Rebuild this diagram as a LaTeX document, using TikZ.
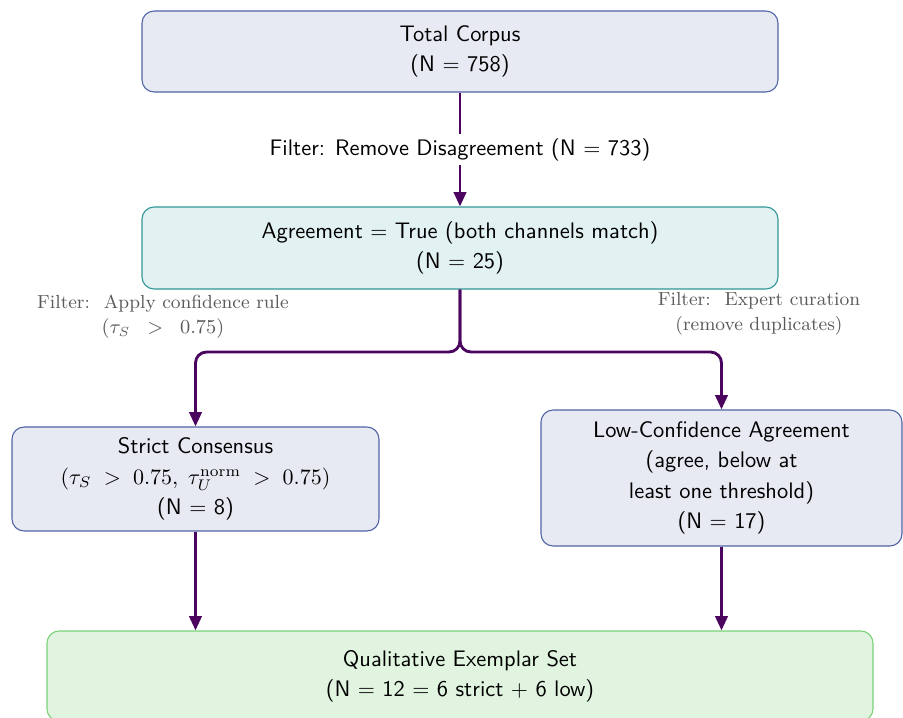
\documentclass[tikz,border=0pt]{standalone}
\usepackage{amsmath}
\usetikzlibrary{arrows.meta}
\definecolor{boxfill}{RGB}{232,234,243}
\definecolor{boxdraw}{RGB}{80,100,165}
\definecolor{agfill}{RGB}{226,241,241}
\definecolor{agdraw}{RGB}{50,150,150}
\definecolor{exfill}{RGB}{224,244,224}
\definecolor{exdraw}{RGB}{120,210,120}
\definecolor{arrcol}{RGB}{75,5,95}
\definecolor{labcol}{RGB}{90,90,90}
\tikzset{
  flowbox/.style={rectangle, rounded corners=5.5pt, line width=0.5pt, align=center,
    inner sep=0pt, font=\sffamily\fontsize{10.2}{13.8}\selectfont},
  flowarrow/.style={draw=arrcol, line width=1.3pt, -{Triangle[length=6.5pt,width=5.6pt]}},
  sidelabel/.style={align=center, text=labcol, font=\fontsize{8.6}{11.5}\selectfont},
}
\begin{document}
\begin{tikzpicture}[x=0.4545pt,y=-0.4545pt]
\useasboundingbox (0,0) rectangle (903,717);
\node[flowbox, fill=boxfill, draw=boxdraw, minimum width=636*0.4545pt, minimum height=81*0.4545pt]
  (total) at (460,51.5) {Total Corpus\\(N $=$ 758)};
\node[flowbox, fill=agfill, draw=agdraw, minimum width=636*0.4545pt, minimum height=82*0.4545pt]
  (agree) at (460,248) {Agreement $=$ True (both channels match)\\(N $=$ 25)};
\node[flowbox, fill=boxfill, draw=boxdraw, minimum width=367*0.4545pt, minimum height=104*0.4545pt]
  (strict) at (195.5,479) {Strict Consensus\\$(\tau_S\;>\;0.75,\;\tau_U^{\mathrm{norm}}\;>\;0.75)$\\(N $=$ 8)};
\node[flowbox, fill=boxfill, draw=boxdraw, minimum width=361*0.4545pt, minimum height=136*0.4545pt]
  (low) at (721.5,478) {Low-Confidence Agreement\\(agree, below at\\least one threshold)\\(N $=$ 17)};
\node[flowbox, fill=exfill, draw=exdraw, minimum width=826*0.4545pt, minimum height=90*0.4545pt]
  (exemplar) at (460,676) {Qualitative Exemplar Set\\(N $=$ 12 $=$ 6 strict $+$ 6 low)};

\draw[flowarrow] (total.south) -- (agree.north)
  node[midway, fill=white, inner sep=2pt, font=\sffamily\fontsize{10.2}{12}\selectfont] (filt1) {Filter: Remove Disagreement (N $=$ 733)};

\coordinate (split) at (460,352);
\draw[flowarrow, rounded corners=5pt] (agree.south) -- (split) -| (strict.north);
\draw[flowarrow, rounded corners=5pt] (agree.south) -- (split) -| (low.north);

\node[sidelabel] (lab1) at (163,317) {Filter:\; Apply confidence rule\\$(\tau_S\;\;>\;\;0.75)$};
\node[sidelabel] (lab2) at (759,314) {Filter:\; Expert curation\\(remove duplicates)};

\draw[flowarrow] (strict.south) -- (strict.south |- exemplar.north);
\draw[flowarrow] (low.south) -- (low.south |- exemplar.north);
\end{tikzpicture}
\end{document}
